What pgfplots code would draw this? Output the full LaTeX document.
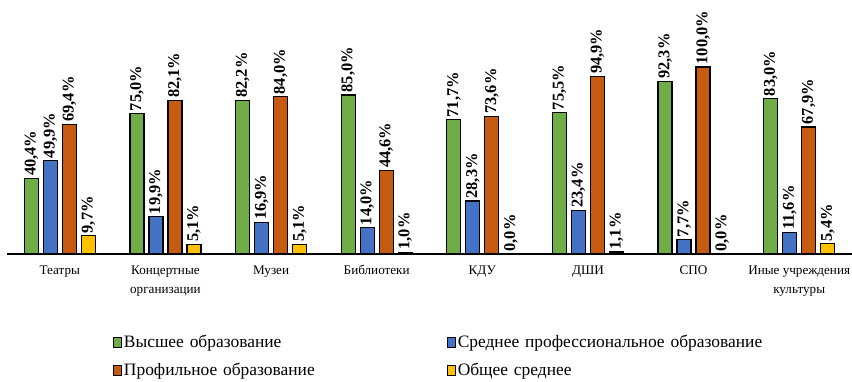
\documentclass[border=0pt]{standalone}
\usepackage{pgfplots}
\pgfplotsset{compat=1.18}
\usepackage{fontspec}
\setmainfont{Liberation Serif}
\definecolor{cgreen}{HTML}{70AD47}
\definecolor{cblue}{HTML}{4472C4}
\definecolor{corange}{HTML}{C55A11}
\definecolor{cyellow}{HTML}{FFC000}
\begin{document}
\begin{tikzpicture}
\useasboundingbox (-7bp,-128bp) rectangle (845bp,254bp);
\begin{axis}[
  scale only axis,
  width=845bp, height=254bp,
  ymin=0, ymax=135.8,
  xmin=-0.5, xmax=7.5,
  clip=false,
  ybar=5bp,
  bar width=14bp,
  axis x line=bottom,
  axis y line=none,
  x axis line style={-, line width=1.6pt},
  xtick=data,
  major tick length=0pt,
  xticklabels={Театры, {Концертные\\организации}, Музеи, Библиотеки, КДУ, ДШИ, СПО, {Иные учреждения\\культуры}},
  xticklabel style={align=center, font=\fontsize{13.2}{19}\selectfont, yshift=-8bp},
  /pgf/number format/assume math mode=true,
  nodes near coords={\pgfmathprintnumber[fixed,fixed zerofill,precision=1,use comma]{\pgfplotspointmeta}\%},
  every node near coord/.append style={rotate=90, anchor=west, font=\bfseries\fontsize{16.5}{18}\selectfont, inner sep=2bp},
  every axis plot/.append style={draw=black, line width=1.2pt},
  legend columns=2,
  legend cell align=left,
  legend image code/.code={\draw[#1, line width=0.8pt] (0bp,-5bp) rectangle (8bp,5bp);},
  legend style={draw=none, fill=none, at={(0.1254,-0.31)}, anchor=north west, inner sep=0pt,
    font=\fontsize{17.5}{19}\selectfont, row sep=10bp,
    nodes={text width=321bp, inner sep=2bp}},
]
\addplot[fill=cgreen] coordinates {(0,40.4) (1,75.0) (2,82.2) (3,85.0) (4,71.7) (5,75.5) (6,92.3) (7,83.0)};
\addplot[fill=cblue] coordinates {(0,49.9) (1,19.9) (2,16.9) (3,14.0) (4,28.3) (5,23.4) (6,7.7) (7,11.6)};
\addplot[fill=corange] coordinates {(0,69.4) (1,82.1) (2,84.0) (3,44.6) (4,73.6) (5,94.9) (6,100.0) (7,67.9)};
\addplot[fill=cyellow] coordinates {(0,9.7) (1,5.1) (2,5.1) (3,1.0) (4,0.0) (5,1.1) (6,0.0) (7,5.4)};
\legend{Высшее образование, Среднее профессиональное образование, Профильное образование, Общее среднее}
\end{axis}
\end{tikzpicture}
\end{document}
